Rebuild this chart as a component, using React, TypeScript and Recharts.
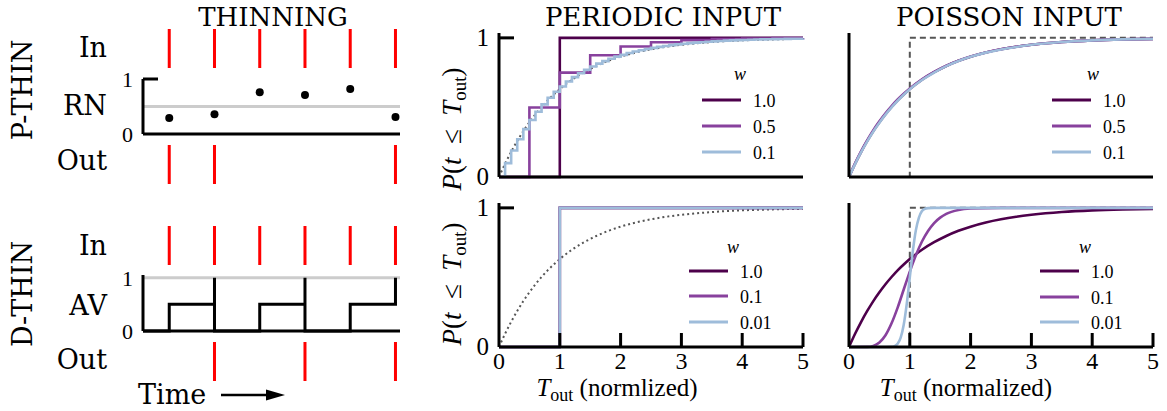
import React from 'react';
import { LineChart, ComposedChart, Line, Scatter, XAxis, YAxis, ReferenceLine } from 'recharts';

// ---- colours / fonts
const DARK = '#4d004b';
const MID = '#88419d';
const LIGHT = '#9ebcda';
const RED = '#ff0000';
const GREY = '#555555';
const TXT = '"DejaVu Serif", serif';
const MATH = '"Liberation Serif", serif';

// ---- thinning cartoon (left)
const timeDomain = [0.42, 6.1];
const spikeTimes = [1, 2, 3, 4, 5, 6];
const pThinOut = [1, 2, 6];
const dThinOut = [2, 4, 6];
const rnValues = [0.29, 0.36, 0.76, 0.71, 0.82, 0.31];
const rnThreshold = 0.5;
const avTime = [0.42, 1, 1, 2, 2, 2, 3, 3, 4, 4, 4, 5, 5, 6, 6];
const avLevel = [0, 0, 0.5, 0.5, 1, 0, 0, 0.5, 0.5, 1, 0, 0, 0.5, 0.5, 1];

// ---- CDF panels
const xTicks = [0, 1, 2, 3, 4, 5];
const expX = [0, 0.1, 0.2, 0.3, 0.4, 0.5, 0.6, 0.7, 0.8, 0.9, 1, 1.2, 1.4, 1.6, 1.8, 2, 2.25, 2.5, 2.75, 3, 3.5, 4, 4.5, 5];
const expY = [0, 0.095, 0.181, 0.259, 0.33, 0.393, 0.451, 0.503, 0.551, 0.593, 0.632, 0.699, 0.753, 0.798, 0.835, 0.865, 0.895, 0.918, 0.936, 0.95, 0.97, 0.982, 0.989, 0.993];

// periodic / p-thin
const pw10X = [0, 1, 5];
const pw10Y = [0, 1, 1];
const pw05X = [0, 0.5, 1, 1.5, 2, 2.5, 3, 3.5, 4, 4.5, 5];
const pw05Y = [0, 0.5, 0.75, 0.875, 0.938, 0.969, 0.984, 0.992, 0.996, 0.998, 0.999];
const pw01X = [0, 0.1, 0.2, 0.3, 0.4, 0.5, 0.6, 0.7, 0.8, 0.9, 1, 1.1, 1.2, 1.3, 1.4, 1.5, 1.6, 1.7, 1.8, 1.9, 2, 2.1, 2.2, 2.3, 2.4, 2.5, 2.6, 2.7, 2.8, 2.9, 3, 3.1, 3.2, 3.3, 3.4, 3.5, 3.6, 3.7, 3.8, 3.9, 4, 4.1, 4.2, 4.3, 4.4, 4.5, 4.6, 4.7, 4.8, 4.9, 5];
const pw01Y = [0, 0.1, 0.19, 0.271, 0.344, 0.41, 0.469, 0.522, 0.57, 0.613, 0.651, 0.686, 0.718, 0.746, 0.771, 0.794, 0.815, 0.833, 0.85, 0.865, 0.878, 0.891, 0.902, 0.911, 0.92, 0.928, 0.935, 0.942, 0.948, 0.953, 0.958, 0.962, 0.966, 0.969, 0.972, 0.975, 0.977, 0.98, 0.982, 0.984, 0.985, 0.987, 0.988, 0.989, 0.99, 0.991, 0.992, 0.993, 0.994, 0.994, 0.995];

// periodic / d-thin (all three step at 1)
const dStepX = [0, 1, 5];
const dw10Y = [0, 1, 1];
const dw01Y = [0, 1, 1];
const dw001Y = [0, 1, 1];

// poisson / p-thin
const qw10Y = expY;
const qw05Y = [0, 0.098, 0.186, 0.265, 0.337, 0.4, 0.458, 0.51, 0.557, 0.598, 0.636, 0.702, 0.755, 0.8, 0.836, 0.866, 0.895, 0.918, 0.936, 0.95, 0.97, 0.982, 0.989, 0.993];
const qw01Y = [0, 0.093, 0.178, 0.256, 0.327, 0.39, 0.448, 0.5, 0.548, 0.591, 0.63, 0.697, 0.751, 0.797, 0.834, 0.864, 0.894, 0.917, 0.935, 0.95, 0.97, 0.982, 0.989, 0.993];
const refStepX = [0, 1, 5];
const refStepY = [0, 1, 1];

// poisson / d-thin
const g10X = [0, 0.3, 0.4, 0.5, 0.6, 0.7, 0.8, 0.9, 1, 1.1, 1.2, 1.3, 1.4, 1.5, 1.6, 1.8, 2, 2.5, 5];
const g10Y = [0, 0.001, 0.008, 0.032, 0.084, 0.17, 0.283, 0.413, 0.542, 0.659, 0.758, 0.834, 0.891, 0.93, 0.957, 0.985, 0.995, 1, 1];
const g100X = [0, 0.6, 0.7, 0.75, 0.8, 0.85, 0.9, 0.95, 1, 1.05, 1.1, 1.15, 1.2, 1.25, 1.3, 1.4, 5];
const g100Y = [0, 0, 0.001, 0.006, 0.023, 0.067, 0.16, 0.31, 0.5, 0.69, 0.84, 0.93, 0.977, 0.994, 0.998, 1, 1];

const pLegend = ['1.0', '0.5', '0.1'];
const dLegend = ['1.0', '0.1', '0.01'];
const wColors = [DARK, MID, LIGHT];

const toRows = (xs: number[], ys: number[]) => xs.map((x, i) => ({ x, y: ys[i] }));
const spine = { stroke: '#000', strokeWidth: 3 };

function Frame({ left, top, children }: any) {
  return <div style={{ position: 'absolute', left, top }}>{children}</div>;
}

function YTick(props: any) {
  const { x, y, payload, mark, fs } = props;
  return (
    <g>
      {mark > 0 && payload.value === 1 && (
        <line x1={x} x2={x + mark} y1={y} y2={y} stroke="#000" strokeWidth={3} />
      )}
      <text x={x - 10} y={y + 8} textAnchor="end" fontFamily={MATH} fontSize={fs} fill="#000">
        {payload.value}
      </text>
    </g>
  );
}

function XTick(props: any) {
  const { x, y, payload } = props;
  return (
    <g>
      {payload.value !== 0 && <line x1={x} x2={x} y1={y} y2={y - 14} stroke="#000" strokeWidth={3} />}
      <text x={x} y={y + 22} textAnchor="middle" fontFamily={MATH} fontSize={24} fill="#000">
        {payload.value}
      </text>
    </g>
  );
}

// each spike is a 0->1 segment; a null row breaks the line between spikes
function SpikeRow({ top, height, times }: { top: number; height: number; times: number[] }) {
  const rows = times.flatMap((t) => [{ t, v: 0 }, { t, v: 1 }, { t, v: null }]);
  return (
    <Frame left={100} top={top}>
      <LineChart width={310} height={height} data={rows} margin={{ top: 0, right: 10, bottom: 0, left: 43 }}>
        <XAxis type="number" dataKey="t" domain={timeDomain} hide />
        <YAxis type="number" domain={[0, 1]} hide />
        <Line dataKey="v" type="linear" stroke={RED} strokeWidth={3} dot={false} connectNulls={false}
          isAnimationActive={false} />
      </LineChart>
    </Frame>
  );
}

function CdfPanel({ left, top, height, plotTop, right, yAxisW, showX, yLabels, children }: any) {
  const xh = height - plotTop - 144;
  return (
    <Frame left={left} top={top}>
      <LineChart width={right} height={height} margin={{ top: plotTop, right: right - yAxisW - 304, bottom: 0, left: 0 }}>
        <XAxis type="number" dataKey="x" domain={[0, 5]} ticks={xTicks} height={xh} axisLine={spine}
          tickLine={false} tickSize={0} tickMargin={0}
          tick={showX ? (p: any) => <XTick {...p} /> : false} />
        <YAxis type="number" domain={[0, 1.035]} ticks={[0, 1]} width={yAxisW} axisLine={spine}
          tickLine={false} tickSize={0} tickMargin={0}
          tick={yLabels ? (p: any) => <YTick {...p} mark={15} fs={25} /> : false} />
        {children}
      </LineChart>
    </Frame>
  );
}

const stepLine = (key: string, xs: number[], ys: number[], color: string) => (
  <Line key={key} data={toRows(xs, ys)} dataKey="y" type="stepAfter" stroke={color} strokeWidth={2.6}
    dot={false} isAnimationActive={false} />
);
const smoothLine = (key: string, xs: number[], ys: number[], color: string) => (
  <Line key={key} data={toRows(xs, ys)} dataKey="y" type="monotone" stroke={color} strokeWidth={2.6}
    dot={false} isAnimationActive={false} />
);
const dottedExp = (
  <Line data={toRows(expX, expY)} dataKey="y" type="monotone" stroke={GREY} strokeWidth={2}
    strokeDasharray="2 3" dot={false} isAnimationActive={false} />
);
const dashedStep = (
  <Line data={toRows(refStepX, refStepY)} dataKey="y" type="stepAfter" stroke={GREY} strokeWidth={2}
    strokeDasharray="6 4" dot={false} isAnimationActive={false} />
);

function LegendSvg({ L, wx, wy, rows, labels }: any) {
  return (
    <g fontFamily={MATH} fontSize={18} fill="#000">
      <text x={wx} y={wy + 5} textAnchor="middle" fontStyle="italic">w</text>
      {rows.map((r: number, i: number) => (
        <g key={i}>
          <line x1={L} x2={L + 39} y1={r} y2={r} stroke={wColors[i]} strokeWidth={3} />
          <text x={L + 51} y={r + 6.5}>{labels[i]}</text>
        </g>
      ))}
    </g>
  );
}

function YLabel({ x, y }: { x: number; y: number }) {
  return (
    <text x={x} y={y} transform={`rotate(-90 ${x} ${y})`} textAnchor="middle" fontFamily={MATH} fontSize={27} fill="#000">
      <tspan fontStyle="italic">P</tspan>(<tspan fontStyle="italic">t</tspan>{'\u2002≤\u2002'}
      <tspan fontStyle="italic">T</tspan><tspan fontSize={19} dy={5}>out</tspan><tspan dy={-5}>)</tspan>
    </text>
  );
}

function XLabel({ x, word }: { x: number; word: string }) {
  return (
    <text x={x} y={396} textAnchor="middle" fontFamily={MATH} fontSize={25} fill="#000">
      <tspan fontStyle="italic">T</tspan><tspan fontSize={18} dy={5}>out</tspan><tspan dy={-5}>{` (${word})`}</tspan>
    </text>
  );
}

export default function App() {
  const rnRows = spikeTimes.map((t, i) => ({ t, rn: rnValues[i] }));
  const avRows = avTime.map((t, i) => ({ t, av: avLevel[i] }));
  const leftLabel = (s: string, y: number) => (
    <text x={107} y={y} textAnchor="end" fontFamily={TXT} fontSize={27} fill="#000">{s}</text>
  );

  return (
    <div style={{ position: 'absolute', left: 0, top: 0, width: 1167, height: 411, background: '#fff', overflow: 'hidden' }}>
      {/* P-THIN cartoon */}
      <SpikeRow top={29} height={39} times={spikeTimes} />
      <Frame left={100} top={60}>
        <ComposedChart width={310} height={90} data={rnRows} margin={{ top: 19, right: 10, bottom: 0, left: 0 }}>
          <XAxis type="number" dataKey="t" domain={timeDomain} height={16} axisLine={spine} tick={false} tickLine={false} />
          <YAxis type="number" domain={[0, 1]} ticks={[0, 1]} width={43} axisLine={spine} tickLine={false}
            tickSize={0} tickMargin={0} tick={(p: any) => <YTick {...p} mark={15} fs={22} />} />
          <ReferenceLine y={rnThreshold} stroke="#cccccc" strokeWidth={3} />
          <Scatter dataKey="rn" isAnimationActive={false}
            shape={(p: any) => <circle cx={p.cx} cy={p.cy} r={4} fill="#000" />} />
        </ComposedChart>
      </Frame>
      <SpikeRow top={145} height={39} times={pThinOut} />

      {/* D-THIN cartoon */}
      <SpikeRow top={226} height={39} times={spikeTimes} />
      <Frame left={100} top={260}>
        <LineChart width={310} height={85} data={avRows} margin={{ top: 15, right: 10, bottom: 0, left: 0 }}>
          <XAxis type="number" dataKey="t" domain={timeDomain} height={14} axisLine={spine} tick={false} tickLine={false} />
          <YAxis type="number" domain={[0, 1.05]} ticks={[0, 1]} width={43} axisLine={spine} tickLine={false}
            tickSize={0} tickMargin={0} tick={(p: any) => <YTick {...p} mark={0} fs={22} />} />
          <ReferenceLine y={1} stroke="#cccccc" strokeWidth={3} />
          <Line dataKey="av" type="linear" stroke="#000" strokeWidth={3} dot={false} isAnimationActive={false} />
        </LineChart>
      </Frame>
      <SpikeRow top={342} height={39} times={dThinOut} />

      {/* periodic input */}
      <CdfPanel left={420} top={0} height={200} plotTop={33} right={400} yAxisW={79} showX={false} yLabels>
        {dottedExp}
        {stepLine('a', pw10X, pw10Y, DARK)}
        {stepLine('b', pw05X, pw05Y, MID)}
        {stepLine('c', pw01X, pw01Y, LIGHT)}
      </CdfPanel>
      <CdfPanel left={420} top={190} height={221} plotTop={13} right={400} yAxisW={79} showX yLabels>
        {dottedExp}
        {stepLine('a', dStepX, dw10Y, DARK)}
        {stepLine('b', dStepX, dw01Y, MID)}
        {stepLine('c', dStepX, dw001Y, LIGHT)}
      </CdfPanel>

      {/* poisson input */}
      <CdfPanel left={800} top={0} height={200} plotTop={33} right={367} yAxisW={49} showX={false} yLabels={false}>
        {dashedStep}
        {smoothLine('a', expX, qw10Y, DARK)}
        {smoothLine('b', expX, qw05Y, MID)}
        {smoothLine('c', expX, qw01Y, LIGHT)}
      </CdfPanel>
      <CdfPanel left={800} top={190} height={221} plotTop={13} right={367} yAxisW={49} showX yLabels={false}>
        {dashedStep}
        {smoothLine('a', expX, expY, DARK)}
        {smoothLine('b', g10X, g10Y, MID)}
        {smoothLine('c', g100X, g100Y, LIGHT)}
      </CdfPanel>

      {/* text overlay */}
      <svg width={1167} height={411} style={{ position: 'absolute', left: 0, top: 0, pointerEvents: 'none' }}>
        <g fontFamily={TXT} fontSize={26} fill="#000" textAnchor="middle">
          <text x={273} y={26}>THINNING</text>
          <text x={663} y={26}>PERIODIC INPUT</text>
          <text x={1009} y={26}>POISSON INPUT</text>
          <text x={22} y={90} transform="rotate(-90 22 90)" dominantBaseline="central" fontSize={27}>P-THIN</text>
          <text x={22} y={294} transform="rotate(-90 22 294)" dominantBaseline="central" fontSize={27}>D-THIN</text>
        </g>
        {leftLabel('In', 57)}
        {leftLabel('RN', 115)}
        {leftLabel('Out', 170)}
        {leftLabel('In', 255)}
        {leftLabel('AV', 315)}
        {leftLabel('Out', 369)}
        <text x={138} y={404} fontFamily={TXT} fontSize={27} fill="#000">Time</text>
        <line x1={221} x2={270} y1={395} y2={395} stroke="#000" strokeWidth={2.5} />
        <polygon points="285,395 266,389.5 266,400.5" fill="#000" />

        <YLabel x={461} y={129} />
        <YLabel x={461} y={284} />
        <XLabel x={617} word="normlized" />
        <XLabel x={966} word="normalized" />

        <LegendSvg L={702} wx={740} wy={75} rows={[100, 126, 152]} labels={pLegend} />
        <LegendSvg L={1052} wx={1093} wy={75} rows={[100, 126, 152]} labels={pLegend} />
        <LegendSvg L={689} wx={733} wy={248} rows={[271, 296, 322]} labels={dLegend} />
        <LegendSvg L={1040} wx={1085} wy={248} rows={[271, 297, 322]} labels={dLegend} />
      </svg>
    </div>
  );
}
